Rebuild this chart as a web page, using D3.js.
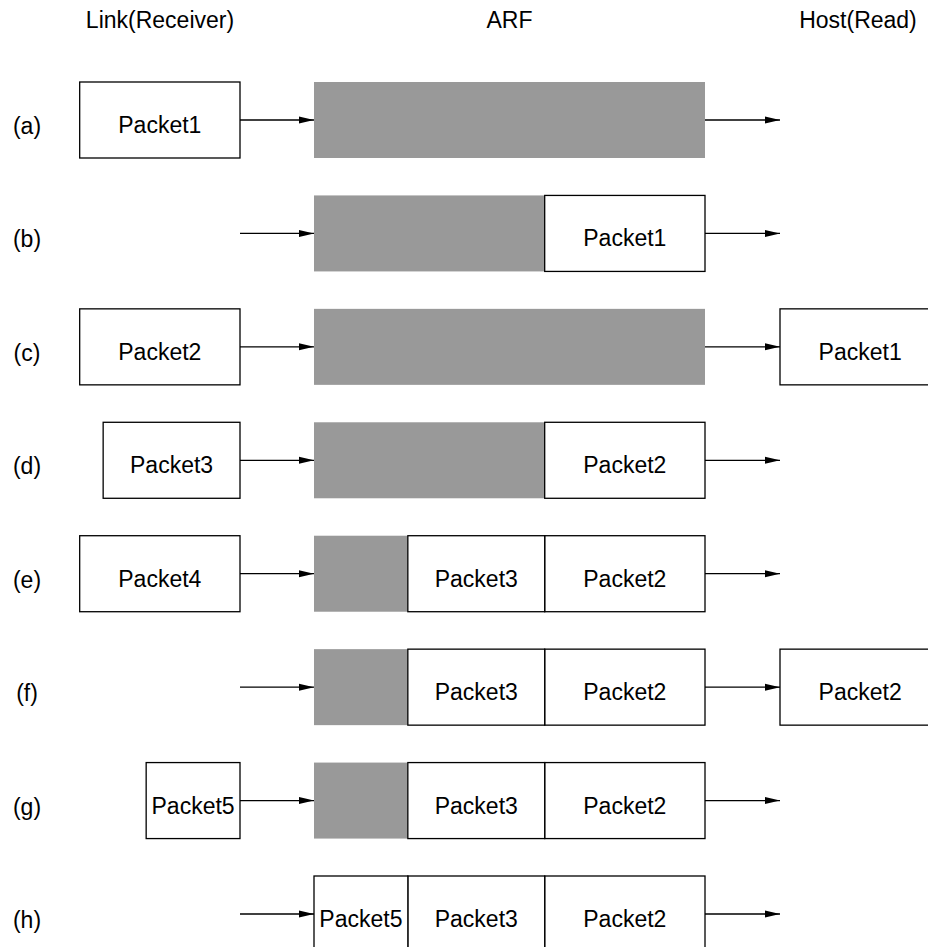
<!DOCTYPE html>
<html>
<head>
<meta charset="utf-8">
<script src="https://cdn.jsdelivr.net/npm/d3@7"></script>
<style>
  body { margin: 0; background: #fff; }
  svg { display: block; font-family: "Liberation Sans", Arial, sans-serif; }
</style>
</head>
<body>
<div id="chart"></div>
<script>
// column titles
const headers = ["Link(Receiver)", "ARF", "Host(Read)"];

// step labels
const rowLabels = ["(a)", "(b)", "(c)", "(d)", "(e)", "(f)", "(g)", "(h)"];

// packet lengths, in % of ARF capacity
const arfCapacity = 100;
const packetNames = ["Packet1", "Packet2", "Packet3", "Packet4", "Packet5"];
const packetLengths = [41, 41, 35, 41, 24];

// what sits where at each step (null = nothing)
const linkState = ["Packet1", null, "Packet2", "Packet3", "Packet4", null, "Packet5", null];
const arfState = [
  [],
  ["Packet1"],
  [],
  ["Packet2"],
  ["Packet3", "Packet2"],
  ["Packet3", "Packet2"],
  ["Packet3", "Packet2"],
  ["Packet5", "Packet3", "Packet2"]
];
const hostState = [null, null, "Packet1", null, null, "Packet2", null, null];

const width = 928, height = 947;
const linkRight = 240, arfLeft = 314, arfRight = 705, hostLeft = 780;
const boxH = 76;
const fontSize = 23;

const lenOf = name => packetLengths[packetNames.indexOf(name)];

const w = d3.scaleLinear().domain([0, arfCapacity]).range([0, arfRight - arfLeft]);
const y = d3.scalePoint().domain(rowLabels).range([120, 914]);

const svg = d3.select("#chart").append("svg")
  .attr("width", width)
  .attr("height", height);

svg.append("defs").append("marker")
  .attr("id", "arrow")
  .attr("markerUnits", "userSpaceOnUse")
  .attr("viewBox", "0 -4 15 8")
  .attr("refX", 15).attr("refY", 0)
  .attr("markerWidth", 15).attr("markerHeight", 8)
  .attr("orient", "auto")
  .append("path")
  .attr("d", "M0,-3.5L15,0L0,3.5Z")
  .attr("fill", "#000");

// headers
const headerX = [(80 + linkRight) / 2, (arfLeft + arfRight) / 2, hostLeft + 78];
svg.append("g").selectAll("text")
  .data(headers)
  .enter().append("text")
  .attr("x", (d, i) => headerX[i])
  .attr("y", 28)
  .attr("text-anchor", "middle")
  .attr("font-size", fontSize)
  .attr("fill", "#000")
  .text(d => d);

function box(g, x0, x1, cy, label) {
  g.append("rect")
    .attr("x", x0).attr("y", cy - boxH / 2)
    .attr("width", x1 - x0).attr("height", boxH)
    .attr("fill", "#fff")
    .attr("stroke", "#000")
    .attr("stroke-width", 1.3);
  g.append("text")
    .attr("x", (x0 + x1) / 2)
    .attr("y", cy + 13)
    .attr("text-anchor", "middle")
    .attr("font-size", fontSize)
    .attr("fill", "#000")
    .text(label);
}

rowLabels.forEach((lab, i) => {
  const cy = y(lab);
  const g = svg.append("g").attr("class", "row");

  g.append("text")
    .attr("x", 27)
    .attr("y", cy + 14)
    .attr("text-anchor", "middle")
    .attr("font-size", fontSize)
    .attr("fill", "#000")
    .text(lab);

  // free ARF space (grey)
  const used = d3.sum(arfState[i], lenOf);
  if (used < arfCapacity) {
    g.append("rect")
      .attr("x", arfLeft)
      .attr("y", cy - boxH / 2)
      .attr("width", w(arfCapacity - used))
      .attr("height", boxH)
      .attr("fill", "#999");
  }

  // ARF contents, packed against the output side
  let xr = arfRight;
  arfState[i].slice().reverse().forEach(p => {
    const x0 = xr - w(lenOf(p));
    box(g, x0, xr, cy, p);
    xr = x0;
  });

  if (linkState[i]) {
    box(g, linkRight - w(lenOf(linkState[i])), linkRight, cy, linkState[i]);
  }
  if (hostState[i]) {
    box(g, hostLeft, hostLeft + w(lenOf(hostState[i])), cy, hostState[i]);
  }

  // arrows in and out
  [[linkRight, arfLeft], [arfRight, hostLeft]].forEach(([a, b]) => {
    g.append("line")
      .attr("x1", a).attr("x2", b)
      .attr("y1", cy).attr("y2", cy)
      .attr("stroke", "#000")
      .attr("stroke-width", 1.3)
      .attr("marker-end", "url(#arrow)");
  });
});
</script>
</body>
</html>
